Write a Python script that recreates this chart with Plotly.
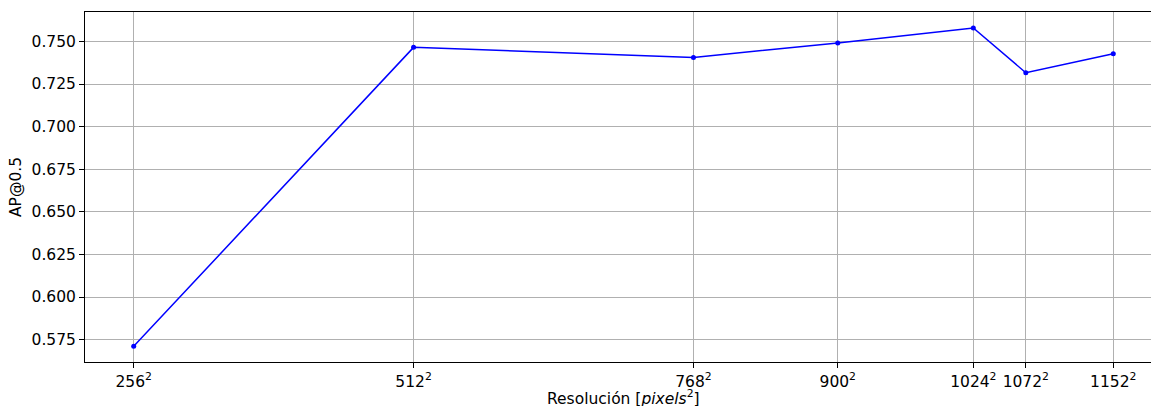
import plotly.graph_objects as go

resolutions = [256, 512, 768, 900, 1024, 1072, 1152]
ap50 = [0.5711, 0.7465, 0.7406, 0.7491, 0.7579, 0.7316, 0.7428]
tick_labels = [f"{r}<sup>2</sup>" for r in resolutions]
y_ticks = [0.575, 0.600, 0.625, 0.650, 0.675, 0.700, 0.725, 0.750]
y_tick_labels = [f"{v:.3f}" for v in y_ticks]
x_title = "Resolución [<i>pixels</i><sup>2</sup>]"
y_title = "AP@0.5"

font = dict(family="DejaVu Sans", size=15.5, color="black")

fig = go.Figure()
fig.add_trace(go.Scatter(
    x=resolutions, y=ap50, mode="lines+markers",
    line=dict(color="blue", width=1.5),
    marker=dict(color="blue", size=5),
    showlegend=False,
))

fig.update_layout(
    width=1151, height=406,
    margin=dict(l=85, r=0, t=12, b=44),
    paper_bgcolor="white", plot_bgcolor="white",
    font=font,
    xaxis=dict(
        range=[211.46, 1186.5],
        tickmode="array", tickvals=resolutions, ticktext=tick_labels,
        showline=True, linecolor="black", linewidth=1, mirror=True,
        ticks="outside", ticklen=5, tickcolor="black", tickwidth=1,
        showgrid=True, gridcolor="#b0b0b0", gridwidth=1,
        zeroline=False,
        automargin=False,
    ),
    yaxis=dict(
        range=[0.5619, 0.76725],
        tickmode="array", tickvals=y_ticks, ticktext=y_tick_labels,
        showline=True, linecolor="black", linewidth=1, mirror=False,
        ticks="outside", ticklen=5, tickcolor="black", tickwidth=1,
        showgrid=True, gridcolor="#b0b0b0", gridwidth=1,
        zeroline=False,
        title=dict(text=y_title, font=font, standoff=6),
        automargin=False,
    ),
    annotations=[dict(
        text=x_title, xref="paper", yref="paper",
        x=(623 - 85) / 1066, y=-36 / 350,
        xanchor="center", yanchor="middle", showarrow=False, font=font,
    )],
)

fig.write_html("out.html", post_script="document.body.style.margin='0';",
               config={"displayModeBar": False})
